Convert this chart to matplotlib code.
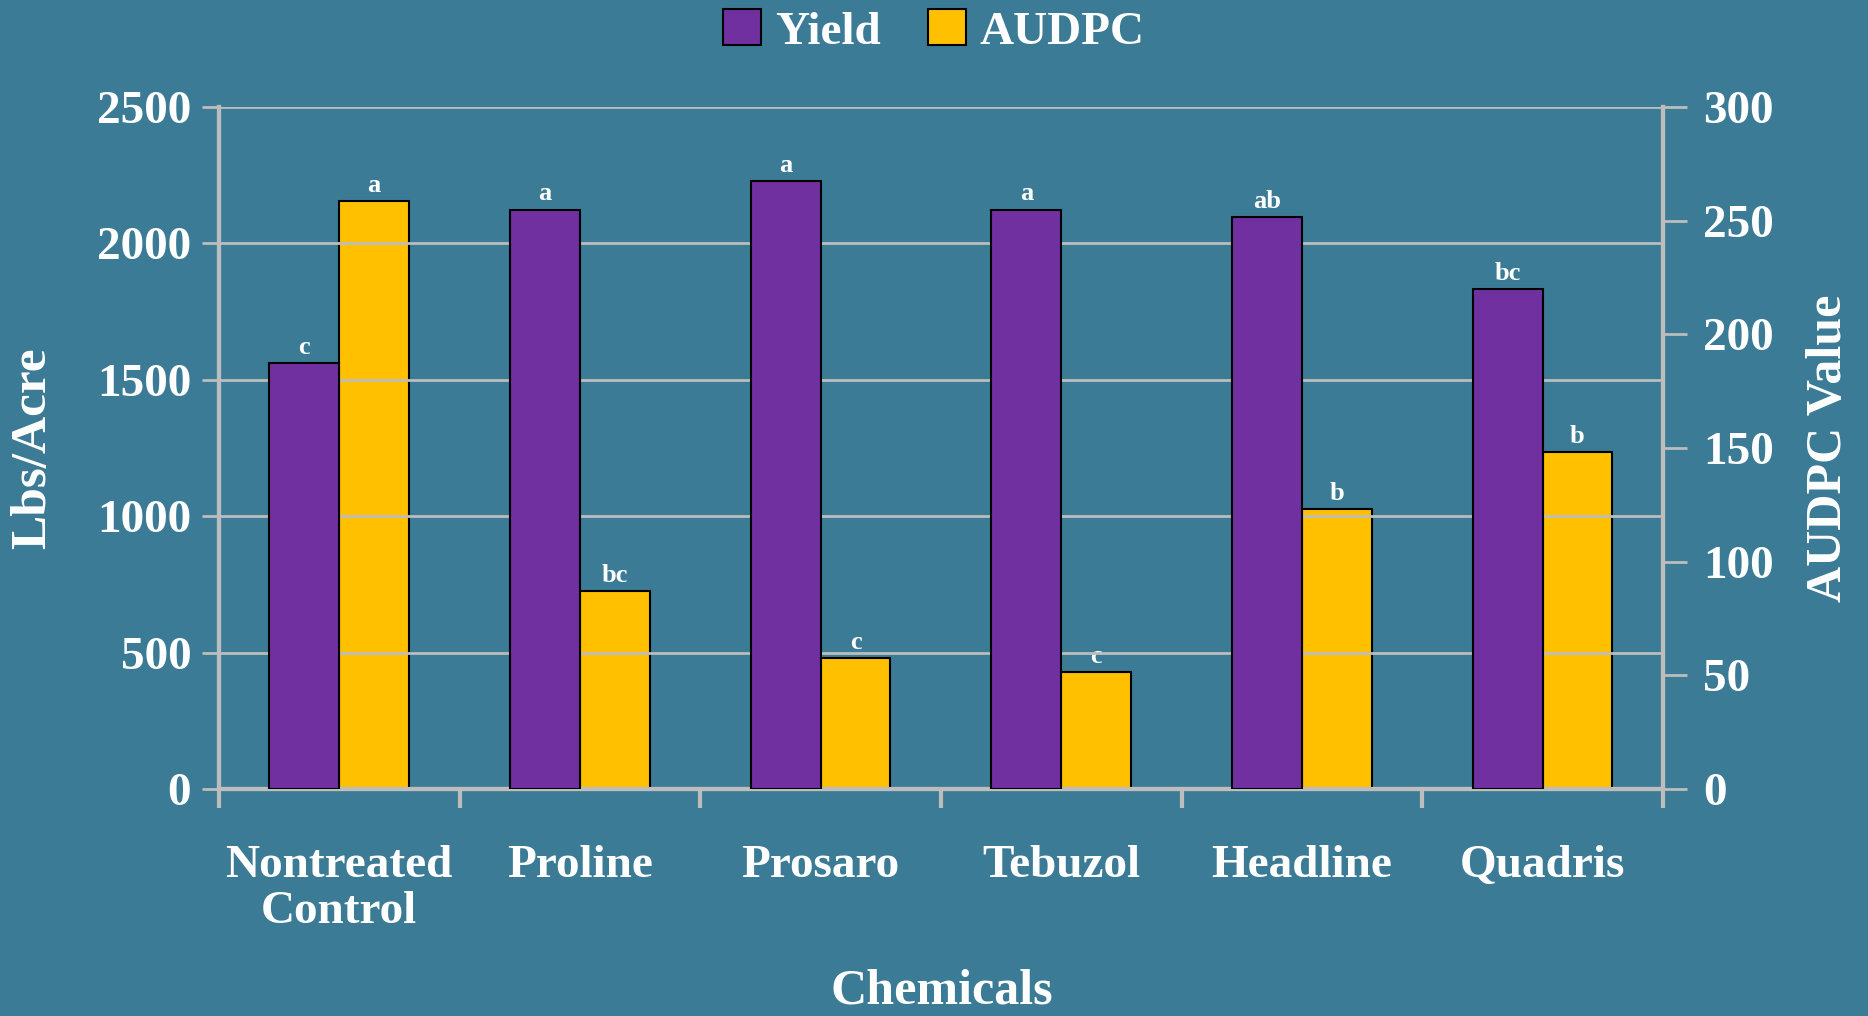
import matplotlib.pyplot as plt
import numpy as np

chemicals = ['Nontreated\nControl', 'Proline', 'Prosaro', 'Tebuzol', 'Headline', 'Quadris']
yield_lbs = [1560, 2124, 2229, 2124, 2098, 1831]
audpc = [258.6, 87, 57.7, 51.4, 123.2, 148.4]
yield_letters = ['c', 'a', 'a', 'a', 'ab', 'bc']
audpc_letters = ['a', 'bc', 'c', 'c', 'b', 'b']

bg = '#3b7b96'
purple = '#7030a0'
gold = '#ffc000'
grey = '#bdbdbd'
plt.rcParams['font.family'] = ['Liberation Serif', 'DejaVu Serif']
plt.rcParams['font.weight'] = 'bold'

fig = plt.figure(figsize=(18.68, 10.16), dpi=100, facecolor=bg)
ax = fig.add_axes([0.1172, 0.2234, 0.7730, 0.6713])
ax.set_facecolor('none')
ax2 = ax.twinx()

x = np.arange(len(chemicals))
w = 0.29
b1 = ax.bar(x - w/2, yield_lbs, w, color=purple, edgecolor='black', linewidth=1.5, label='Yield', zorder=3)
b2 = ax2.bar(x + w/2, audpc, w, color=gold, edgecolor='black', linewidth=1.5, label='AUDPC', zorder=3)

for xi, v, t in zip(x, yield_lbs, yield_letters):
    ax.text(xi - w/2, v + 15, t, ha='center', va='bottom', color='white', fontsize=19)
for xi, v, t in zip(x, audpc, audpc_letters):
    ax2.text(xi + w/2, v + 1.8, t, ha='center', va='bottom', color='white', fontsize=19)

ax.set_xlim(-0.5, len(chemicals) - 0.5)
ax.set_ylim(0, 2500)
ax2.set_ylim(0, 300)
ax.set_yticks(range(0, 2501, 500))
ax2.set_yticks(range(0, 301, 50))
ax.set_xticks(x)
ax.set_xticklabels(chemicals, fontsize=34, color='white', linespacing=1.15)
ax.set_xticks(np.arange(-0.5, len(chemicals)), minor=True)
ax.tick_params(axis='x', which='major', length=0, pad=40)
ax.tick_params(axis='x', which='minor', length=14, width=3, color=grey, direction='out')
ax.tick_params(axis='y', length=12, width=2, color=grey, labelsize=34, labelcolor='white', pad=8)
ax2.tick_params(axis='y', length=17, width=2, color=grey, labelsize=34, labelcolor='white', pad=12)

ax.yaxis.grid(True, color=grey, linewidth=2, zorder=0)
ax.set_axisbelow(True)
for a in (ax, ax2):
    a.spines['top'].set_visible(False)
    for s in ('left', 'right', 'bottom'):
        a.spines[s].set_color(grey)
        a.spines[s].set_linewidth(3)
ax2.set_facecolor('none')
ax.set_zorder(ax2.get_zorder() + 1)
ax.patch.set_visible(False)

fig.text(0.018, 0.5589, 'Lbs/Acre', rotation=90, ha='center', va='center', color='white', fontsize=37)
fig.text(0.979, 0.5589, 'AUDPC Value', rotation=90, ha='center', va='center', color='white', fontsize=36)
fig.text(0.504, 0.024, 'Chemicals', ha='center', va='center', color='white', fontsize=36)

fig.legend(handles=[b1, b2], loc='center', bbox_to_anchor=(0.500, 0.969), ncol=2, frameon=False,
           fontsize=34, labelcolor='white', handlelength=0.8, handleheight=0.8, handletextpad=0.3,
           columnspacing=1.0)

fig.savefig('out.png', dpi=100, facecolor=bg)
